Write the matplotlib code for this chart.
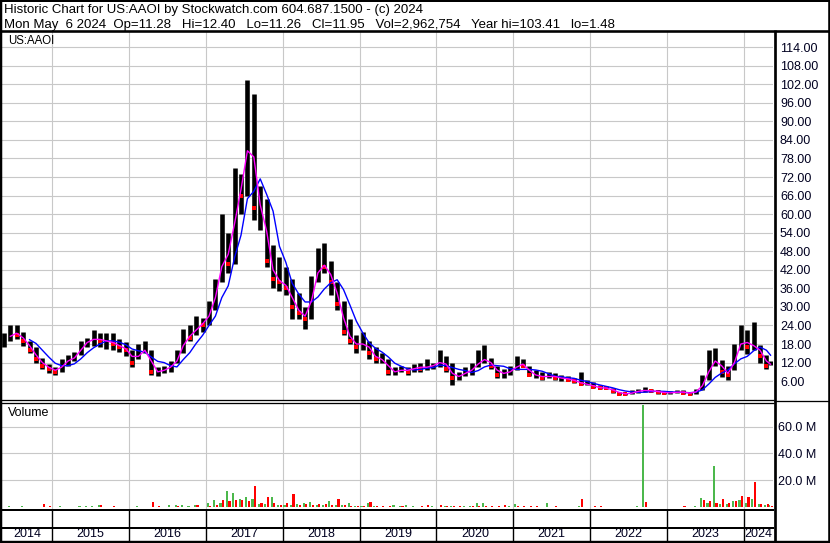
import matplotlib
matplotlib.use("Agg")
import matplotlib.pyplot as plt
import numpy as np
import pandas as pd
from matplotlib.ticker import FuncFormatter

plt.rcParams['font.family'] = ['Liberation Sans', 'DejaVu Sans']

W, H = 830, 543

title_line1 = "Historic Chart for US:AAOI by Stockwatch.com 604.687.1500 - (c) 2024"
title_line2 = ("Mon May  6 2024  Op=11.28   Hi=12.40   Lo=11.26   Cl=11.95   "
               "Vol=2,962,754   Year hi=103.41   lo=1.48")
symbol = "US:AAOI"

# monthly bars, May 2014 .. May 2024 (last bar = May 6 2024)
first_month = "2014-05"
last_date = "2024-05-06"

high = [21.5, 24, 24, 22, 19, 17, 13.5, 11.5,
        10.5, 13, 14.5, 15.5, 19, 20, 22.5, 21.5, 21.5, 21.5, 19.5, 18.5,
        16, 18, 19, 16, 10.5, 11, 12.5, 16, 23, 24, 27, 26.5,
        32, 39, 60, 54, 75, 73, 103.4, 99, 69, 65, 50, 46,
        43, 39, 34.5, 30, 40, 49, 50.6, 45, 38, 32, 26, 21,
        22, 19, 17, 15, 13, 10.5, 11, 10.5, 11.5, 12, 13, 12,
        16, 14, 12, 9, 10.5, 12, 16, 17.7, 13.5, 11, 10, 11,
        14, 13, 11, 9.5, 9, 9, 8.5, 8, 7.5, 7, 9, 6.3,
        5.6, 4.7, 4.4, 3.7, 2.6, 2.3, 3, 3.6, 4.2, 3.4, 3, 2.8,
        2.7, 3.2, 3, 2.6, 3.5, 8, 16, 16.6, 12.8, 11, 18, 24,
        22.6, 25, 17.7, 14.4, 12.4]
low = [17, 19, 19.5, 17.5, 15, 12, 10, 8.5,
       8, 9, 11, 12.5, 14.5, 17, 17.5, 17, 16.5, 16, 15.5, 14,
       10.5, 13, 15, 8, 7.8, 8.5, 9, 12, 15, 19, 21, 22,
       24, 29, 38, 41, 44, 60, 66, 58, 55, 43, 36, 35,
       34, 26, 26, 23, 26, 38, 41, 34, 29, 21, 18, 15,
       16, 13, 12, 12, 8, 8, 8.8, 8, 9, 9, 9.5, 10,
       10.5, 9, 4.7, 6.3, 7.5, 8, 10.5, 12, 10, 7, 7, 8,
       9.5, 10.5, 7.5, 7, 6.5, 7, 6.5, 6, 6, 5.5, 4.8, 4.7,
       3.7, 3.4, 3.3, 2.1, 1.5, 1.5, 1.9, 2.2, 2.4, 2.4, 2, 1.8,
       1.8, 2.2, 1.8, 1.48, 1.8, 3, 6.5, 11, 7.4, 6.3, 9.5, 16,
       14.7, 16, 12, 10, 11.26]
close = [19, 22, 21, 19, 16, 13, 11, 10,
         9, 12, 13, 14, 18, 19, 20, 19, 19, 18, 17, 16,
         12, 16, 16, 9, 9, 10, 11, 14, 21, 20, 25, 24,
         30, 36, 50, 44, 70, 66, 95, 62, 64, 45, 39, 38,
         36, 30, 28, 26, 38, 44, 43, 38, 31, 22, 19, 17,
         19, 15, 13, 13, 9, 9, 10, 9, 11, 10, 11, 11,
         13, 10, 7, 8, 9, 10, 13, 13, 11, 8, 9, 9,
         12, 11, 8, 8, 7, 8, 7, 7, 6.5, 6, 5, 5,
         4, 3.8, 3.7, 2.7, 2, 1.8, 2.4, 3, 3, 2.8, 2.5, 2.2,
         2.2, 2.6, 2.3, 2, 3, 6, 12, 13, 9, 8, 16, 20,
         17, 18, 14, 11, 11.95]

# volume in millions, biggest up / down bar of each month
vol_up = [0, 0.5, 0, 0.4, 0, 0, 0, 0,
          0, 0.8, 0, 0, 0.6, 0.8, 0.8, 1.0, 0, 0, 0, 0,
          0, 0.5, 0, 0, 0, 0, 1.2, 1.2, 1.0, 0.8, 1.2, 0,
          3.0, 5.0, 3, 12, 10, 5.7, 7.5, 6, 2, 2, 7, 1,
          1, 1.5, 2, 2.5, 3.7, 1.5, 1, 4.5, 1, 1, 3, 0.5,
          0.5, 2.5, 0.8, 0, 0, 1.2, 0.5, 1, 0.5, 0, 0, 0.5,
          0, 0.5, 0.5, 0, 0.5, 0.8, 2.5, 2.5, 0, 0, 0, 0.5,
          2, 0, 0, 0, 0, 3, 0, 0, 0, 0, 0.5, 0,
          0, 0, 0, 0, 0, 0, 0, 0.8, 76, 0, 0, 0,
          0, 0, 0, 0, 0.8, 6.7, 3, 30.5, 2, 2, 4, 5,
          3, 5.5, 2, 1.5, 1.0]
vol_down = [0, 0, 0, 0, 0, 0, 2.0, 0.6,
            0, 0, 0, 0, 0, 0, 0, 1.0, 0, 0.6, 0, 0,
            0, 0, 0, 3.7, 0.8, 0, 0, 0.5, 0, 0, 1.0, 0,
            0.8, 1.0, 5, 4, 5, 5, 4, 15.5, 3, 7, 3, 1.5,
            2.5, 9.5, 1.5, 2, 1.5, 2, 2, 1.5, 5.5, 1.5, 0.8, 0.8,
            0.5, 3.7, 0.5, 0.8, 0.8, 0, 0.5, 0, 0, 0.5, 1.2, 0,
            1.2, 0.5, 0.8, 0.5, 0, 0.5, 0.5, 0.8, 0.5, 0.5, 1.2, 0,
            0.5, 0.8, 0.5, 0.5, 0, 0, 0.8, 0, 0, 0, 5.7, 0,
            0.3, 0.3, 0, 0, 0, 0, 0, 0, 3.7, 0, 0, 0,
            0, 0, 0.3, 0, 0, 5, 4.5, 3, 5.5, 2.5, 4.5, 8,
            7, 18.5, 2.2, 1.8, 0.8]

years = list(range(2014, 2025))
price_ticks = list(range(6, 115, 6))
vol_ticks = [20, 40, 60]

# ---- positions (decimal years) ----
months = pd.period_range(first_month, periods=len(close), freq="M")
xm = np.array([p.year + (p.month - 0.5) / 12 for p in months])
ld = pd.Timestamp(last_date)
xm[-1] = ld.year + (ld.dayofyear - 1) / 365.0
xlim = (2014.35, 2024.377)

close_s = pd.Series(close)
ma_short = close_s.rolling(2).mean()
ma_long = close_s.rolling(5).mean()
down = np.r_[False, np.diff(close) < 0]

GRID = '#c8c8c8'
GREEN = '#4cb84c'
LABEL = '#000020'


def px_rect(x0, y0, x1, y1):
    return [x0 / W, 1 - y1 / H, (x1 - x0) / W, (y1 - y0) / H]


fig = plt.figure(figsize=(W / 100, H / 100), dpi=100)
fig.patch.set_facecolor('white')

# ---- price panel ----
ax_p = fig.add_axes(px_rect(2, 32, 773, 400))
ax_p.set_xlim(*xlim)
ax_p.set_ylim(-0.1, 118.9)
ax_p.set_xticks(years[1:])
ax_p.set_yticks(price_ticks)
ax_p.yaxis.set_major_formatter(FuncFormatter(lambda v, _: f"{v:.2f}"))
ax_p.tick_params(axis='x', length=0, labelbottom=False)
ax_p.tick_params(axis='y', length=0, left=False, right=False,
                 labelleft=False, labelright=True, pad=5,
                 labelsize=9, labelcolor=LABEL)
ax_p.grid(True, color=GRID, lw=0.8)
ax_p.set_axisbelow(True)
for s in ax_p.spines.values():
    s.set_visible(False)

ax_p.vlines(xm, low, high, color='black', lw=3.3, zorder=2)
ax_p.plot(xm[down], np.array(close)[down], 's', color='red', ms=2.2,
          mew=0, zorder=3)
ax_p.plot(xm, ma_long, color='#0000ff', lw=1.0, zorder=4)
ax_p.plot(xm, ma_short, color='#ff00ff', lw=1.0, zorder=5)

# ---- volume panel ----
ax_v = fig.add_axes(px_rect(2, 403, 773, 509))
ax_v.set_xlim(*xlim)
ax_v.set_ylim(-1.7, 77.7)
ax_v.set_xticks(years[1:])
ax_v.set_yticks(vol_ticks)
ax_v.yaxis.set_major_formatter(FuncFormatter(lambda v, _: f"{v:.1f} M"))
ax_v.tick_params(axis='x', length=0, labelbottom=False)
ax_v.tick_params(axis='y', length=0, left=False, right=False,
                 labelleft=False, labelright=True, pad=3.6,
                 labelsize=9, labelcolor=LABEL)
ax_v.grid(True, color=GRID, lw=0.8)
ax_v.set_axisbelow(True)
for s in ax_v.spines.values():
    s.set_visible(False)
ax_v.bar(xm - 0.017, vol_up, width=0.028, color=GREEN, lw=0, zorder=2)
ax_v.bar(xm + 0.017, vol_down, width=0.028, color='red', lw=0, zorder=2)

# ---- year band ----
ax_y = fig.add_axes(px_rect(2, 509, 773, 541))
ax_y.set_xlim(*xlim)
ax_y.set_ylim(0, 1)
ax_y.axis('off')
ax_y.vlines(years[1:], 0, 1, color='black', lw=1.0)
for yr in years:
    a, b = max(yr, xlim[0]), min(yr + 1, xlim[1])
    ax_y.text((a + b) / 2, 0.23, str(yr), ha='center', va='center',
              fontsize=9, color=LABEL)

# ---- frame, separators, text (pixel coordinates) ----
ov = fig.add_axes([0, 0, 1, 1], zorder=10)
ov.set_xlim(0, W)
ov.set_ylim(H, 0)
ov.axis('off')
ov.patch.set_alpha(0)


def hline(y, x0, x1, w):
    ov.plot([x0, x1], [y, y], color='black', lw=w * 0.72,
            solid_capstyle='butt')


def vline(x, y0, y1, w):
    ov.plot([x, x], [y0, y1], color='black', lw=w * 0.72,
            solid_capstyle='butt')


vline(1.2, 0, H, 2.5)
vline(828.7, 0, H, 2.6)
hline(1.0, 0, W, 2.0)
hline(541.9, 0, W, 2.4)
hline(30.6, 0, W, 2.6)
vline(774.6, 30, H, 2.7)
hline(400.4, 0, 774, 1.3)
hline(402.6, 0, 774, 1.3)
hline(400.6, 774, W, 1.3)
hline(509.5, 0, 774, 2.0)
hline(527.8, 0, 774, 2.0)

ov.text(4, 12.5, title_line1, fontsize=9.5, va='baseline', ha='left')
ov.text(4, 27.6, title_line2, fontsize=9.5, va='baseline', ha='left')
ov.text(8, 41.5, symbol, fontsize=8.3, va='center', ha='left')
ov.text(8, 413.5, "Volume", fontsize=9, va='center', ha='left')

fig.savefig("out.png", dpi=100)
